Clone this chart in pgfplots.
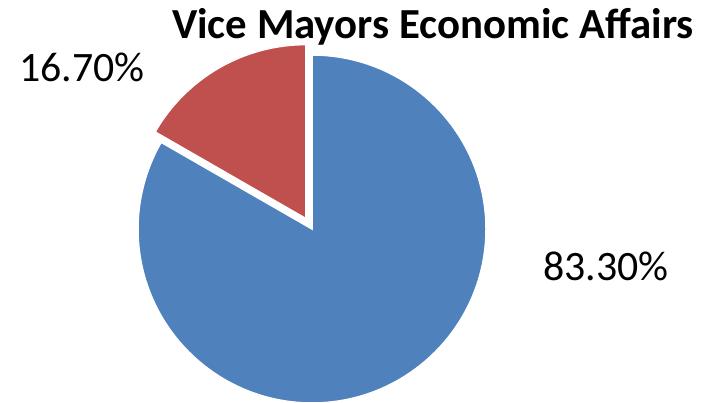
\documentclass[border=0pt]{standalone}
\usepackage{pgfplots}
\pgfplotsset{compat=1.18}
\usepackage{pgfplotstable}
\usepackage{fontspec}
\setmainfont{Carlito}
\definecolor{pieblue}{HTML}{4F81BD}
\definecolor{piered}{HTML}{C0504D}
\pgfplotstableread{
label value
Yes 83.3
No 16.7
}\piedata
\begin{document}
\begin{tikzpicture}
\pgfplotstablegetelem{0}{value}\of\piedata \let\va\pgfplotsretval
\pgfplotstablegetelem{1}{value}\of\piedata \let\vb\pgfplotsretval
\pgfmathsetmacro{\angA}{90-3.6*\va}
\pgfmathsetmacro{\midB}{90+1.8*\vb}
\begin{axis}[
  scale only axis, width=704bp, height=403bp,
  xmin=0, xmax=704, ymin=0, ymax=403,
  hide axis, clip=true,
]
% blue slice
\fill[pieblue, draw=white, line width=1.5bp]
  (axis cs:312,174) -- ++(90:174bp) arc[start angle=90, end angle=\angA, radius=174bp] -- cycle;
% red slice (exploded)
\fill[piered, draw=white, line width=1.5bp, shift={(\midB:12bp)}]
  (axis cs:312,174) -- ++(\angA:174bp) arc[start angle=\angA, end angle=-270, radius=174bp] -- cycle;
\node[anchor=base, font=\fontsize{43}{50}\selectfont\bfseries, inner sep=0pt] at (axis cs:433,364) {Vice Mayors Economic Affairs};
\node[anchor=base, font=\fontsize{42}{48}\selectfont, inner sep=0pt] at (axis cs:82,321) {16.70\%};
\node[anchor=base, font=\fontsize{42}{48}\selectfont, inner sep=0pt] at (axis cs:606,122) {83.30\%};
\end{axis}
\pgfresetboundingbox
\path[use as bounding box] (current axis.south west) rectangle (current axis.north east);
\end{tikzpicture}
\end{document}
